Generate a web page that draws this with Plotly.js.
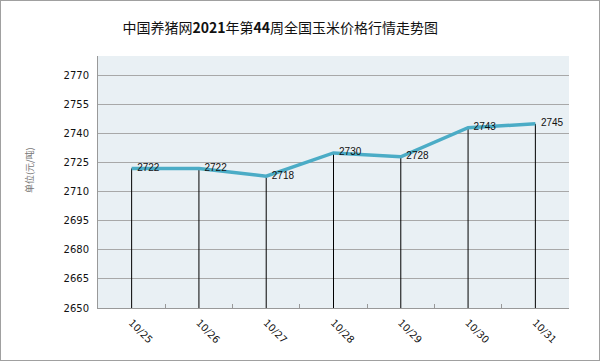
<!DOCTYPE html>
<html><head><meta charset="utf-8">
<script src="https://cdn.plot.ly/plotly-3.0.1.min.js"></script>
<style>html,body{margin:0;padding:0;background:#fff}#c{width:598px;height:359px;border:1px solid #a0a0a0}</style>
</head><body><div id="c"></div>
<script>
const dates = ["10/25","10/26","10/27","10/28","10/29","10/30","10/31"];
const prices = [2722, 2722, 2718, 2730, 2728, 2743, 2745];
const yTicks = [2650, 2665, 2680, 2695, 2710, 2725, 2740, 2755, 2770];
const yMin = 2650, yMax = 2780;

const trace = {
  x: dates, y: prices, type: 'scatter', mode: 'lines+text',
  text: prices.map(v => '\u00a0\u00a0' + v), textposition: 'middle right',
  textfont: {family: 'Liberation Sans, sans-serif', size: 10, color: '#111'},
  line: {color: '#4BACC6', width: 3.5},
  error_y: {type: 'data', symmetric: false, array: prices.map(() => 0),
            arrayminus: prices.map(v => v - yMin), width: 0, color: '#000', thickness: 1},
  cliponaxis: false, hoverinfo: 'skip'
};
const layout = {
  width: 598, height: 359,
  margin: {l: 97, r: 30, t: 55, b: 52},
  paper_bgcolor: '#fff', plot_bgcolor: '#E9F0F4',
  showlegend: false,
  title: {text: '中国养猪网<b>2021</b>年第<b>44</b>周全国玉米价格行情走势图', x: 0.467, xanchor: 'center', y: 0.925, yanchor: 'middle',
          font: {family: 'Noto Sans CJK SC, sans-serif', size: 14, color: '#111'}},
  xaxis: {type: 'category', range: [-0.5, 6.5], tickangle: 45, tickson: 'boundaries',
          ticks: 'inside', ticklen: 4, tickcolor: '#999', showgrid: false, zeroline: false,
          showline: true, linecolor: '#999', linewidth: 1, ticklabelstandoff: 4,
          tickfont: {family: 'DejaVu Sans, sans-serif', size: 10, color: '#111'}},
  yaxis: {range: [yMin, yMax], tickvals: yTicks, ticktext: yTicks.map(String),
          showgrid: true, gridcolor: '#A8A8A8', gridwidth: 1, zeroline: false,
          showline: true, linecolor: '#999', linewidth: 1, ticks: '', ticklabelstandoff: 6,
          tickfont: {family: 'DejaVu Sans, sans-serif', size: 10, color: '#111'}},
  annotations: [{text: '单位(元/吨)', xref: 'paper', yref: 'paper', x: -0.144, y: 0.548,
                 xanchor: 'center', yanchor: 'middle', textangle: -90, showarrow: false,
                 font: {family: 'Noto Sans CJK SC, sans-serif', size: 9, color: '#777'}}]
};
Plotly.newPlot('c', [trace], layout, {displayModeBar: false, staticPlot: true});
</script></body></html>
